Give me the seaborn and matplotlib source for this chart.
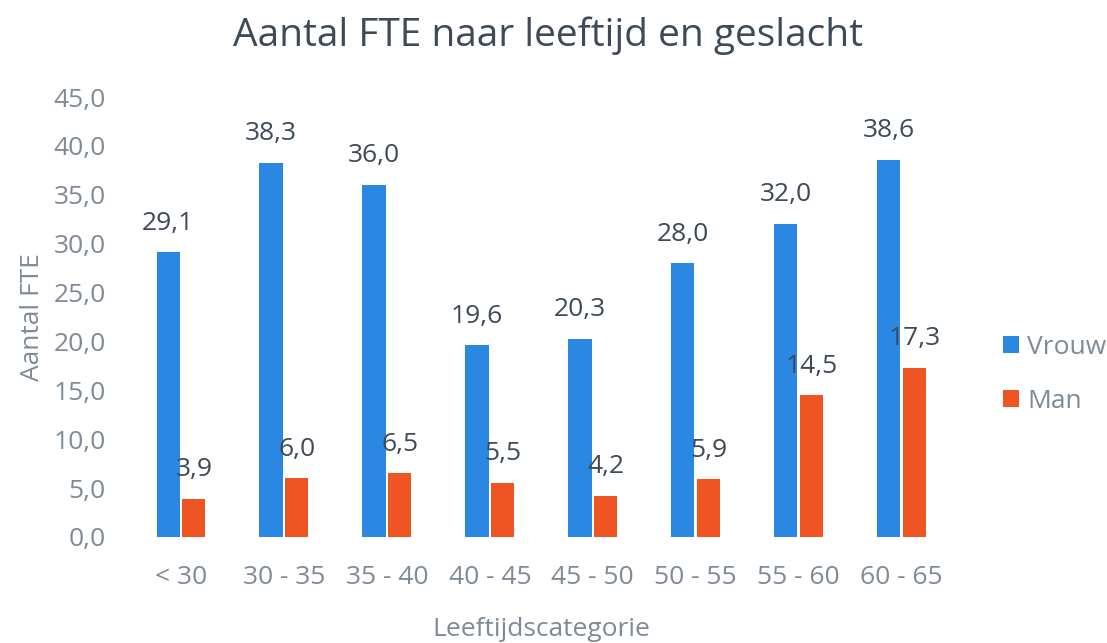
import pandas as pd
import matplotlib
matplotlib.use("Agg")
import matplotlib.pyplot as plt
import seaborn as sns

categories = ["< 30", "30 - 35", "35 - 40", "40 - 45", "45 - 50", "50 - 55", "55 - 60", "60 - 65"]
vrouw = [29.1, 38.3, 36.0, 19.6, 20.3, 28.0, 32.0, 38.6]
man = [3.9, 6.0, 6.5, 5.5, 4.2, 5.9, 14.5, 17.3]
yticks = [0, 5, 10, 15, 20, 25, 30, 35, 40, 45]

df = pd.DataFrame({
    "categorie": categories * 2,
    "fte": vrouw + man,
    "geslacht": ["Vrouw"] * len(vrouw) + ["Man"] * len(man),
})

sns.set_theme(style="white")
plt.rcParams["font.family"] = ["Open Sans", "DejaVu Sans"]

tick_col = "#7f8a96"
val_col = "#3e4a58"

fig = plt.figure(figsize=(11.07, 6.43), dpi=100)
ax = fig.add_axes([0.117, 0.165, 0.744, 0.684])

sns.barplot(data=df, x="categorie", y="fte", hue="geslacht", order=categories,
            hue_order=["Vrouw", "Man"], palette=["#2b88e2", "#ef5522"],
            width=0.5, gap=0.1, saturation=1, linewidth=0, ax=ax)

for cont in ax.containers:
    ax.bar_label(cont, labels=[f"{v:.1f}".replace(".", ",") for v in cont.datavalues],
                 padding=12, fontsize=19, color=val_col)

ax.set_ylim(0, 45)
ax.set_xlim(-0.5, 7.5)
ax.set_yticks(yticks)
ax.set_yticklabels([f"{t:.1f}".replace(".", ",") for t in yticks])
ax.tick_params(axis="both", labelsize=19, colors=tick_col, length=0)
ax.tick_params(axis="y", pad=17)
ax.tick_params(axis="x", pad=20)
for s in ax.spines.values():
    s.set_visible(False)

ax.set_xlabel("Leeftijdscategorie", fontsize=19, color=tick_col, labelpad=20)
ax.set_ylabel("Aantal FTE", fontsize=19, color=tick_col, labelpad=6)
fig.suptitle("Aantal FTE naar leeftijd en geslacht", fontsize=28, color="#3e4a58", y=0.975, x=0.495)

leg = ax.legend(loc="center left", bbox_to_anchor=(1.032, 0.37), frameon=False,
                fontsize=19, labelspacing=1.1, handlelength=0.6, handleheight=0.6,
                handletextpad=0.3)
for t in leg.get_texts():
    t.set_color(tick_col)

fig.savefig("out.png", dpi=100)
